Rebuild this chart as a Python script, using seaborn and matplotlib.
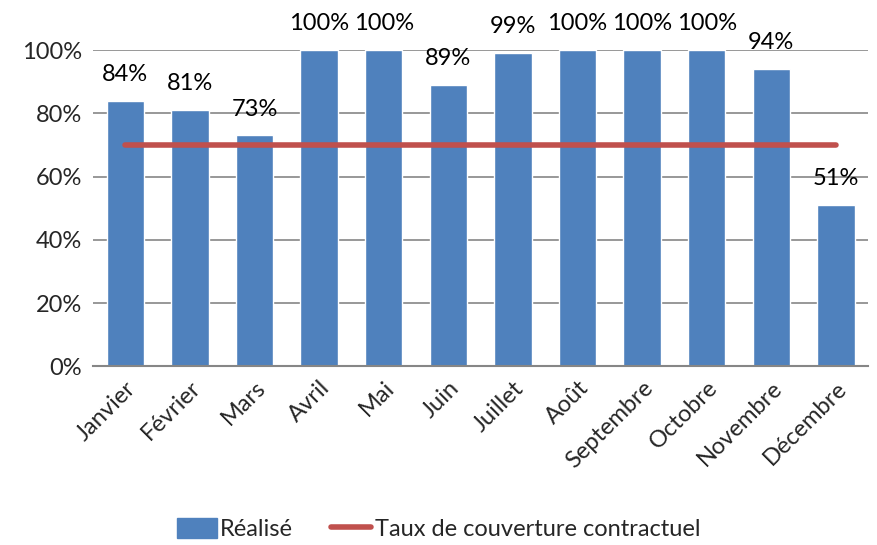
import pandas as pd
import seaborn as sns
import matplotlib.pyplot as plt
from matplotlib.patches import Patch
from matplotlib.lines import Line2D

# données
mois = ["Janvier", "Février", "Mars", "Avril", "Mai", "Juin", "Juillet",
        "Août", "Septembre", "Octobre", "Novembre", "Décembre"]
realise = [0.84, 0.81, 0.73, 1.00, 1.00, 0.89, 0.99, 1.00, 1.00, 1.00, 0.94, 0.51]
labels = ["84%", "81%", "73%", "100%", "100%", "89%", "99%",
          "100%", "100%", "100%", "94%", "51%"]
taux_contractuel = [0.70] * 12

df = pd.DataFrame({"Mois": mois, "Réalisé": realise, "Taux": taux_contractuel})

sns.set_style("white")
plt.rcParams["font.family"] = ["Lato", "DejaVu Sans"]

bleu = "#4F81BD"
rouge = "#C0504D"

fig = plt.figure(figsize=(8.77, 5.45), dpi=100)
ax = fig.add_axes([0.106, 0.328, 0.884, 0.58])

ax.yaxis.grid(True, color="#868686", linewidth=1.2)
ax.set_axisbelow(True)

sns.barplot(data=df, x="Mois", y="Réalisé", color=bleu, saturation=1,
            width=0.58, ax=ax)
ax.plot(range(len(mois)), df["Taux"], color=rouge, linewidth=4,
        solid_capstyle="round", zorder=3)

for i, (v, lab) in enumerate(zip(realise, labels)):
    ax.text(i, v + 0.05, lab, ha="center", va="bottom", fontsize=17,
            color="black", clip_on=False)

ax.set_ylim(0, 1)
ax.set_xlim(-0.5, 11.5)
ax.set_yticks([0, 0.2, 0.4, 0.6, 0.8, 1.0])
ax.set_yticklabels(["0%", "20%", "40%", "60%", "80%", "100%"], fontsize=17)
ax.set_xticks(range(len(mois)))
ax.set_xticklabels(mois, rotation=45, ha="right", rotation_mode="anchor",
                   fontsize=17)
ax.tick_params(axis="both", length=0, pad=8)
ax.set_xlabel("")
ax.set_ylabel("")

for s in ["top", "right", "left"]:
    ax.spines[s].set_visible(False)
ax.spines["bottom"].set_color("#868686")
ax.spines["bottom"].set_linewidth(1.5)

handles = [Patch(facecolor=bleu, edgecolor=bleu),
           Line2D([0], [0], color=rouge, linewidth=4, solid_capstyle="round")]
fig.legend(handles, ["Réalisé", "Taux de couverture contractuel"],
           loc="lower center", bbox_to_anchor=(0.5, -0.03), ncol=2,
           frameon=False, fontsize=17, handlelength=1.7, handletextpad=0.15,
           columnspacing=1.6, handleheight=0.9)

plt.savefig("out.png", dpi=100)
